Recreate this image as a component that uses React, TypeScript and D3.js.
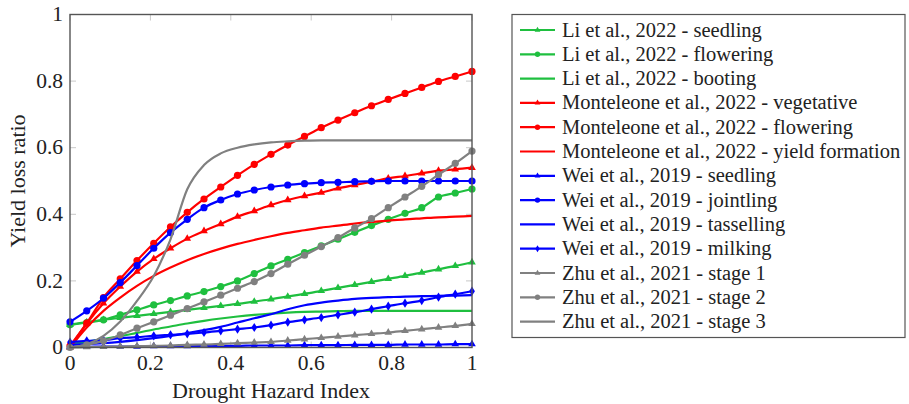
import React from "react";
import * as d3 from "d3";

const xs = d3.range(25).map((k) => k / 24);

const liSeedling = [0.068,0.076,0.083,0.089,0.095,0.101,0.107,0.113,0.119,0.125,0.131,0.138,0.145,0.153,0.161,0.17,0.179,0.188,0.197,0.206,0.215,0.225,0.235,0.245,0.256];
const liFlowering = [0.068,0.075,0.083,0.098,0.113,0.128,0.141,0.155,0.168,0.183,0.2,0.222,0.245,0.265,0.285,0.305,0.325,0.346,0.366,0.385,0.403,0.42,0.452,0.464,0.476];
const liBooting = [0.01,0.017,0.025,0.034,0.044,0.054,0.063,0.072,0.08,0.087,0.093,0.098,0.102,0.105,0.107,0.108,0.109,0.11,0.11,0.11,0.11,0.11,0.11,0.11,0.11];
const monVegetative = [0.0,0.072,0.133,0.183,0.228,0.266,0.298,0.327,0.35,0.371,0.393,0.41,0.428,0.443,0.455,0.465,0.478,0.488,0.498,0.508,0.515,0.523,0.531,0.535,0.54];
const monFlowering = [0.005,0.073,0.15,0.206,0.261,0.313,0.362,0.406,0.446,0.482,0.517,0.55,0.58,0.608,0.634,0.66,0.683,0.705,0.726,0.745,0.763,0.781,0.799,0.814,0.829];
const monYield = [0.0,0.06,0.11,0.15,0.185,0.215,0.24,0.262,0.281,0.297,0.311,0.323,0.334,0.344,0.352,0.36,0.366,0.372,0.377,0.381,0.385,0.388,0.391,0.393,0.395];
const weiSeedling = [0.002,0.002,0.003,0.003,0.003,0.004,0.004,0.004,0.005,0.005,0.005,0.006,0.006,0.006,0.007,0.007,0.007,0.008,0.008,0.008,0.009,0.009,0.009,0.01,0.01];
const weiJointling = [0.077,0.11,0.148,0.195,0.246,0.298,0.345,0.385,0.42,0.443,0.461,0.473,0.482,0.488,0.492,0.495,0.496,0.498,0.499,0.5,0.5,0.5,0.5,0.5,0.5];
const weiTasselling = [0.008,0.01,0.013,0.017,0.022,0.028,0.035,0.043,0.052,0.062,0.075,0.088,0.1,0.115,0.127,0.135,0.141,0.146,0.149,0.151,0.153,0.154,0.155,0.156,0.157];
const weiMilking = [0.016,0.02,0.022,0.028,0.031,0.035,0.038,0.041,0.045,0.05,0.055,0.06,0.067,0.076,0.083,0.09,0.098,0.106,0.115,0.124,0.133,0.141,0.151,0.16,0.169];
const zhuStage1 = [0,0.001,0.002,0.003,0.004,0.005,0.006,0.008,0.009,0.011,0.013,0.015,0.017,0.021,0.025,0.029,0.033,0.037,0.041,0.045,0.05,0.055,0.06,0.065,0.071];
const zhuStage2 = [0.0,0.008,0.02,0.038,0.058,0.077,0.097,0.117,0.137,0.157,0.178,0.198,0.222,0.25,0.277,0.303,0.33,0.359,0.387,0.42,0.452,0.484,0.519,0.553,0.59];
const zhuStage3 = [0.0,0.01,0.035,0.078,0.14,0.215,0.325,0.475,0.548,0.583,0.6,0.61,0.616,0.619,0.621,0.622,0.622,0.622,0.622,0.622,0.622,0.622,0.622,0.622,0.622];

const seriesNames = [
  "Li et al., 2022 - seedling",
  "Li et al., 2022 - flowering",
  "Li et al., 2022 - booting",
  "Monteleone et al., 2022 - vegetative",
  "Monteleone et al., 2022 - flowering",
  "Monteleone et al., 2022 - yield formation",
  "Wei et al., 2019 - seedling",
  "Wei et al., 2019 - jointling",
  "Wei et al., 2019 - tasselling",
  "Wei et al., 2019 - milking",
  "Zhu et al., 2021 - stage 1",
  "Zhu et al., 2021 - stage 2",
  "Zhu et al., 2021 - stage 3",
];
const seriesValues = [liSeedling, liFlowering, liBooting, monVegetative, monFlowering, monYield, weiSeedling, weiJointling, weiTasselling, weiMilking, zhuStage1, zhuStage2, zhuStage3];

const GREEN = "#1fbf3f";
const RED = "#ff0000";
const BLUE = "#0000ff";
const GRAY = "#808080";
const seriesColors = [GREEN, GREEN, GREEN, RED, RED, RED, BLUE, BLUE, BLUE, BLUE, GRAY, GRAY, GRAY];
const seriesMarks = ["tri", "circ", "none", "tri", "circ", "none", "tri", "circ", "none", "diam", "tri", "circ", "none"];

const xTicks = [0, 0.2, 0.4, 0.6, 0.8, 1];
const yTicks = [0, 0.2, 0.4, 0.6, 0.8, 1];
const tickLabel = (v: number) => (v === 0 ? "0" : v === 1 ? "1" : String(v));

const FONT = "'Liberation Serif', 'DejaVu Serif', serif";
const textStyle = { fontFamily: FONT };

function Marker({ type, x, y, color, s = 1 }: { type: string; x: number; y: number; color: string; s?: number }) {
  if (type === "circ") return <circle cx={x} cy={y} r={3.6 * s} fill={color} />;
  if (type === "tri") {
    const r = 4.4 * s;
    return <path d={`M${x},${y - r} L${x + r * 0.87},${y + r * 0.5} L${x - r * 0.87},${y + r * 0.5} Z`} fill={color} />;
  }
  if (type === "diam") {
    const h = 4.6 * s, w = 2.9 * s;
    return <path d={`M${x},${y - h} L${x + w},${y} L${x},${y + h} L${x - w},${y} Z`} fill={color} />;
  }
  return null;
}

export default function App() {
  const W = 909, H = 404;
  const left = 70, right = 472, top = 14.5, bottom = 347.5;
  const x = d3.scaleLinear().domain([0, 1]).range([left, right]);
  const y = d3.scaleLinear().domain([0, 1]).range([bottom, top]);
  const line = d3.line<number>().x((_, i) => x(xs[i])).y((d) => y(d)).curve(d3.curveMonotoneX);

  const legX = 512, legY = 14.5, legW = 393, legH = 323;
  const rowY = (i: number) => 30 + 24.3 * i;

  return (
    <svg width={W} height={H} style={{ position: "absolute", left: 0, top: 0, background: "#fff" }}>
      <defs>
        <clipPath id="plotclip">
          <rect x={left - 6} y={top - 6} width={right - left + 12} height={bottom - top + 12} />
        </clipPath>
      </defs>
      {xTicks.map((t) => (
        <g key={"xt" + t} stroke="#c8c8c8" strokeWidth={1}>
          <line x1={x(t)} x2={x(t)} y1={bottom} y2={bottom - 6} />
          <line x1={x(t)} x2={x(t)} y1={top} y2={top + 6} />
        </g>
      ))}
      {yTicks.map((t) => (
        <g key={"yt" + t} stroke="#c8c8c8" strokeWidth={1}>
          <line x1={left} x2={left + 6} y1={y(t)} y2={y(t)} />
          <line x1={right} x2={right - 6} y1={y(t)} y2={y(t)} />
        </g>
      ))}
      <g clipPath="url(#plotclip)">
        {seriesValues.map((vals, si) => (
          <g key={si}>
            <path d={line(vals) || ""} fill="none" stroke={seriesColors[si]} strokeWidth={2.2} strokeLinejoin="round" />
            {seriesMarks[si] !== "none" &&
              vals.map((v, i) => <Marker key={i} type={seriesMarks[si]} x={x(xs[i])} y={y(v)} color={seriesColors[si]} />)}
          </g>
        ))}
      </g>
      <rect x={left} y={top} width={right - left} height={bottom - top} fill="none" stroke="#555" strokeWidth={1.4} />
      {xTicks.map((t) => (
        <text key={"xl" + t} x={x(t)} y={370} textAnchor="middle" fontSize={21.5} fill="#222" style={textStyle}>
          {tickLabel(t)}
        </text>
      ))}
      {yTicks.map((t) => (
        <text key={"yl" + t} x={63} y={y(t) + 6.7} textAnchor="end" fontSize={21.5} fill="#222" style={textStyle}>
          {tickLabel(t)}
        </text>
      ))}
      <text x={(left + right) / 2} y={398} textAnchor="middle" fontSize={22} fill="#222" style={textStyle}>
        Drought Hazard Index
      </text>
      <text transform={`translate(25,${(top + bottom) / 2}) rotate(-90)`} textAnchor="middle" fontSize={22} fill="#222" style={textStyle}>
        Yield loss ratio
      </text>
      <rect x={legX} y={legY} width={legW} height={legH} fill="#fff" stroke="#555" strokeWidth={1.2} />
      {seriesNames.map((name, i) => (
        <g key={"lg" + i}>
          <line x1={520} x2={555} y1={rowY(i)} y2={rowY(i)} stroke={seriesColors[i]} strokeWidth={2.2} />
          <Marker type={seriesMarks[i]} x={537.5} y={rowY(i)} color={seriesColors[i]} s={0.75} />
          <text x={562} y={rowY(i) + 6.5} fontSize={20.5} fill="#222" style={textStyle}>
            {name}
          </text>
        </g>
      ))}
    </svg>
  );
}
